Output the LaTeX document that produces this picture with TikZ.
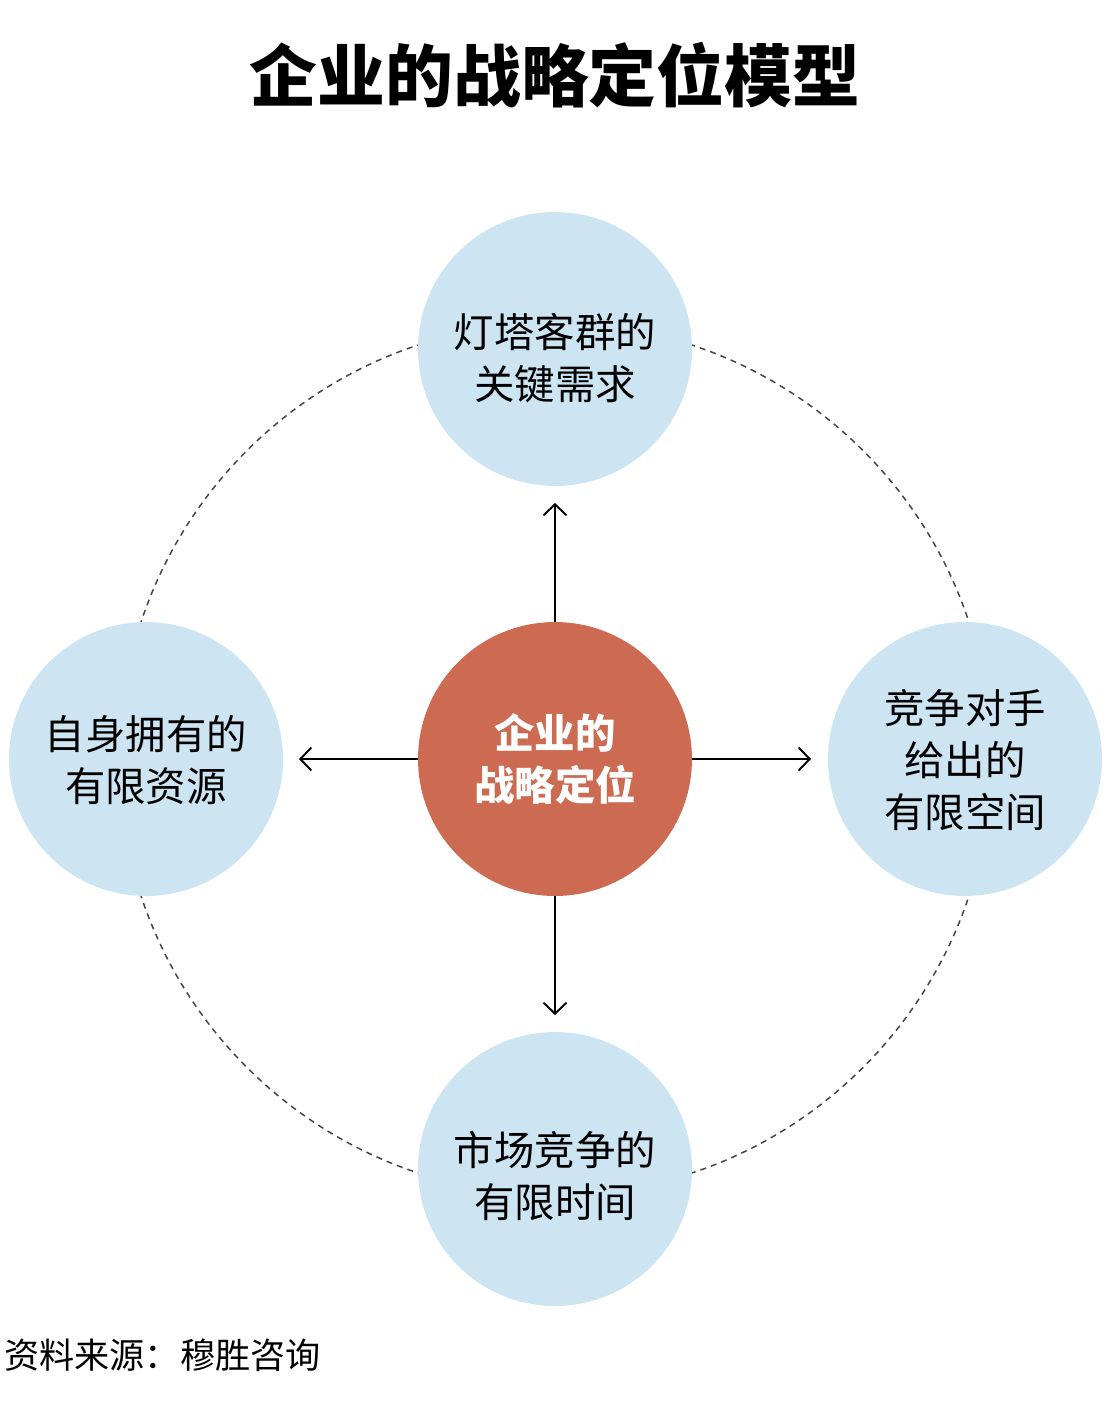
\documentclass[tikz,border=0pt]{standalone}
\usepackage{fontspec}
\setmainfont{Noto Sans CJK SC}
\usetikzlibrary{arrows.meta,positioning}
\definecolor{GoalClr}{RGB}{204,107,82}
\definecolor{FactorClr}{RGB}{205,229,242}
\definecolor{RingClr}{RGB}{68,68,68}

\begin{document}
\begin{tikzpicture}[x=0.02cm,y=-0.02cm,
  factor/.style={circle,fill=FactorClr,minimum size=5.48cm,inner sep=0pt},
  factortext/.style={align=center,inner sep=0pt,font=\fontsize{23pt}{29.6pt}\selectfont},
  goal/.style={circle,fill=GoalClr,minimum size=5.48cm,inner sep=0pt,
    align=center,text=white,font=\bfseries\fontsize{23pt}{29.6pt}\selectfont},
  push/.style={line width=1.1pt,-{Straight Barb[length=0.22cm,width=0.46cm,line width=1.1pt]}}]
\useasboundingbox (0,0) rectangle (1108,1424);

\node (title) at (555,75) {\bfseries\fontsize{38.6pt}{44pt}\selectfont 企业的战略定位模型};

% dashed ring behind the circles
\draw[RingClr,line width=0.85pt,dash pattern=on 3.4pt off 2.9pt] (555,759) circle[radius=8.72cm];

\node[goal] (goal) at (555,759) {企业的\\战略定位};

\node[factor] (top) at (555,349) {};
\node[factor] (left) at (146,759) {};
\node[factor] (right) at (965,759) {};
\node[factor] (bottom) at (555,1169) {};

\node[factortext] (topText) at ([yshift=-0.18cm]top.center) {灯塔客群的\\关键需求};
\node[factortext] (leftText) at ([yshift=-0.02cm]left.center) {自身拥有的\\有限资源};
\node[factortext] (rightText) at ([yshift=-0.02cm]right.center) {竞争对手\\给出的\\有限空间};
\node[factortext] (bottomText) at ([yshift=-0.14cm]bottom.center) {市场竞争的\\有限时间};

\coordinate (topEnd) at (555,503);
\coordinate (leftEnd) at (299,759);
\coordinate (rightEnd) at (811,759);
\coordinate (bottomEnd) at (555,1015);

\draw[push] (goal.north) -- (topEnd);
\draw[push] (goal.west) -- (leftEnd);
\draw[push] (goal.east) -- (rightEnd);
\draw[push] (goal.south) -- (bottomEnd);

\node[anchor=west,inner sep=0pt,font=\fontsize{20pt}{24pt}\selectfont] (source) at (4,1355) {资料来源：穆胜咨询};

\end{tikzpicture}
\end{document}
